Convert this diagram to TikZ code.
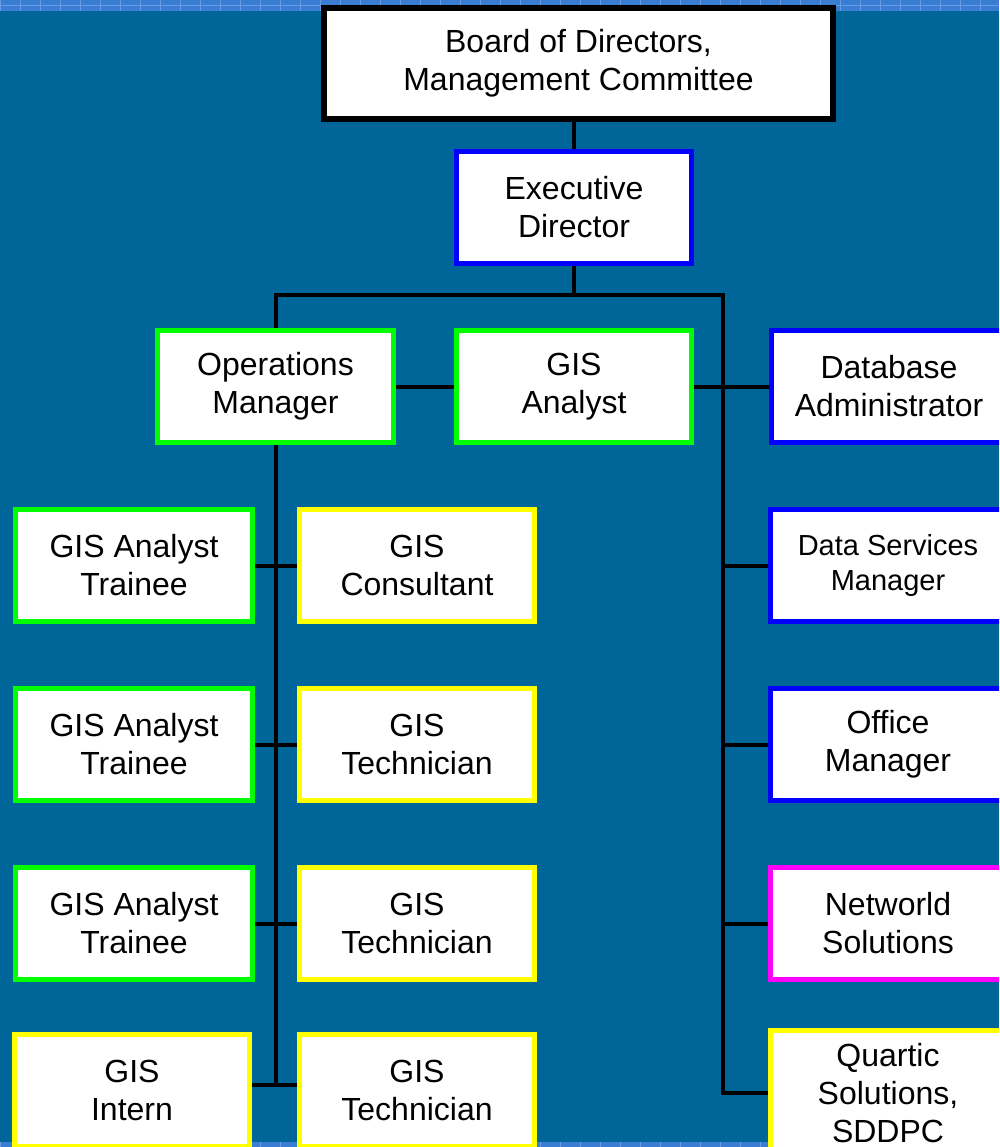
\documentclass[tikz,border=0pt]{standalone}
\usepackage{fontspec}
\setmainfont{Liberation Sans}
\definecolor{bgblue}{RGB}{0,102,153}
\definecolor{stripblue}{RGB}{58,126,212}
\definecolor{stripline}{RGB}{105,155,228}
\definecolor{gboxc}{RGB}{0,255,0}
\definecolor{yboxc}{RGB}{255,255,0}
\definecolor{bboxc}{RGB}{0,0,255}
\definecolor{mboxc}{RGB}{255,0,255}
\pgfdeclarelayer{backdrop}
\pgfdeclarelayer{lines}
\pgfsetlayers{backdrop,lines,main}
\begin{document}
\begin{tikzpicture}[x=1pt,y=-1pt,
  box/.style={rectangle, fill=white, draw=#1, line width=5pt, align=center,
    inner sep=0pt, minimum width=235pt, minimum height=112pt,
    font=\fontsize{32}{38}\selectfont},
  widebox/.style={box=#1, minimum width=237pt},
  smalltext/.style={font=\fontsize{29}{35}\selectfont},
  conn/.style={draw=black, line width=4pt}]
\useasboundingbox (0,0) rectangle (999,1147);
\clip (0,0) rectangle (999,1147);
\begin{pgfonlayer}{backdrop}
\fill[bgblue] (0,0) rectangle (999,1147);
% decorative strips at top and bottom
\fill[stripblue] (0,0) rectangle (999,11);
\fill[stripblue] (0,1142) rectangle (999,1147);
\foreach \x in {0,20,...,1000} {
  \draw[stripline, line width=0.8pt] (\x,0) -- (\x,11);
  \draw[stripline, line width=0.8pt] (\x,1142) -- (\x,1147);
}
\draw[stripline, line width=0.8pt] (0,5.5) -- (999,5.5);
\end{pgfonlayer}

% nodes
\node[box=black, line width=6pt, minimum width=509pt, minimum height=111pt] (board) at (578.5,63.5) {Board of Directors,\\Management Committee};
\node[box=bboxc] (exec) at (574,207.5) {Executive\\Director};
\node[box=gboxc, minimum width=236pt] (ops) at (275.5,386.5) {Operations\\Manager};
\node[box=gboxc] (analyst) at (574,386.5) {GIS\\Analyst};
\node[box=bboxc] (dba) at (889,386.5) {Database\\Administrator};

\node[widebox=gboxc] (t1) at (134,565.5) {GIS Analyst\\Trainee};
\node[box=yboxc] (c1) at (417,565.5) {GIS\\Consultant};
\node[box=bboxc, smalltext] (dsm) at (888,565.5) {Data Services\\Manager};

\node[widebox=gboxc] (t2) at (134,744.5) {GIS Analyst\\Trainee};
\node[box=yboxc] (tech1) at (417,744.5) {GIS\\Technician};
\node[box=bboxc] (office) at (888,744.5) {Office\\Manager};

\node[widebox=gboxc] (t3) at (134,923.5) {GIS Analyst\\Trainee};
\node[box=yboxc] (tech2) at (417,923.5) {GIS\\Technician};
\node[box=mboxc] (netw) at (888,923.5) {Networld\\Solutions};

\node[box=yboxc] (intern) at (132,1090.5) {GIS\\Intern};
\node[box=yboxc] (tech3) at (417,1090.5) {GIS\\Technician};
\node[box=yboxc, minimum height=125pt] (quartic) at (888,1093) {Quartic\\Solutions,\\SDDPC};

% connectors
\begin{pgfonlayer}{lines}
\coordinate (jl) at (276,295);
\coordinate (jr) at (723,295);
\coordinate (lb) at (276,1085);
\coordinate (rb) at (723,1093);
\draw[conn] (exec.north |- board.south) -- (exec.north);
\draw[conn] (exec.south) -- (exec.south |- jl);
\draw[conn] (jl |- ops.north) -- (jl) -- (jr) -- (rb) -- (quartic.west |- rb);
\draw[conn] (ops.east) -- (analyst.west);
\draw[conn] (analyst.east) -- (dba.west);
\draw[conn] (lb |- ops.south) -- (lb);
\draw[conn] (t1.east) -- (c1.west);
\draw[conn] (t2.east) -- (tech1.west);
\draw[conn] (t3.east) -- (tech2.west);
\draw[conn] (intern.east |- lb) -- (tech3.west |- lb);
\draw[conn] (jr |- dsm.west) -- (dsm.west);
\draw[conn] (jr |- office.west) -- (office.west);
\draw[conn] (jr |- netw.west) -- (netw.west);
\end{pgfonlayer}
\end{tikzpicture}
\end{document}
